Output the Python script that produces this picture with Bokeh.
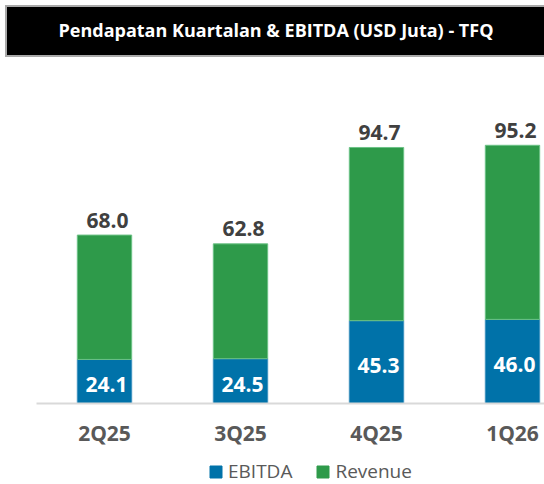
from bokeh.plotting import figure
from bokeh.models import ColumnDataSource, Range1d, FixedTicker, Legend, LegendItem, Div
from bokeh.layouts import column
from bokeh.core.properties import value
from bokeh.embed import file_html
from bokeh.resources import INLINE

# ---- data ----
categories = ["2Q25", "3Q25", "4Q25", "1Q26"]
ebitda = [24.1, 24.5, 45.3, 46.0]
revenue = [68.0, 62.8, 94.7, 95.2]
series_names = ["EBITDA", "Revenue"]
title_text = "Pendapatan Kuartalan & EBITDA (USD Juta) - TFQ"

BLUE = "#0072A9"
GREEN = "#2E9A4A"
FONT = "Open Sans"

xs = [i + 0.5 for i in range(len(categories))]
totals = [e + r for e, r in zip(ebitda, revenue)]
src = ColumnDataSource(dict(
    x=xs, cat=categories, ebitda=ebitda, revenue=revenue, total=totals,
    ebitda_mid=[e / 2 for e in ebitda],
    ebitda_lbl=[f"{e:.1f}" for e in ebitda],
    revenue_lbl=[f"{r:.1f}" for r in revenue],
))

p = figure(width=580, height=391, output_backend="svg", toolbar_location=None,
           x_range=Range1d(0, len(categories)), y_range=Range1d(0, 181),
           min_border_left=36, min_border_right=0, min_border_top=10, min_border_bottom=50)
p.outline_line_color = None
p.xgrid.visible = False
p.ygrid.visible = False
p.yaxis.visible = False
p.background_fill_color = "white"
p.border_fill_color = "white"

bw = 0.4
r_e = p.vbar(x="x", bottom=0, top="ebitda", width=bw, source=src,
             fill_color=BLUE, line_color="#3f93bf", line_width=1)
r_r = p.vbar(x="x", bottom="ebitda", top="total", width=bw, source=src,
             fill_color=GREEN, line_color="#6cc286", line_width=1)

p.text(x="x", y="ebitda_mid", text="ebitda_lbl", source=src,
       text_align="center", text_baseline="middle", x_offset=2, y_offset=3,
       text_color="white", text_font=value(FONT), text_font_style="bold",
       text_font_size="21px")
p.text(x="x", y="total", text="revenue_lbl", source=src,
       text_align="center", text_baseline="alphabetic", x_offset=3, y_offset=-15,
       text_color="#404040", text_font=value(FONT), text_font_style="bold",
       text_font_size="21px")

ax = p.xaxis[0]
ax.ticker = FixedTicker(ticks=xs)
ax.major_label_overrides = {x: c for x, c in zip(xs, categories)}
ax.major_tick_line_color = None
ax.minor_tick_line_color = None
ax.axis_line_color = "#d9d9d9"
ax.axis_line_width = 2
ax.major_label_standoff = 9
ax.major_label_text_font = FONT
ax.major_label_text_font_style = "bold"
ax.major_label_text_font_size = "21px"
ax.major_label_text_color = "#595959"

# ---- legend strip ----
pl = figure(width=580, height=40, output_backend="svg", toolbar_location=None,
            x_range=Range1d(0, 1), y_range=Range1d(0, 1),
            min_border_left=36, min_border_right=0, min_border_top=0, min_border_bottom=0)
pl.outline_line_color = None
pl.xgrid.visible = False
pl.ygrid.visible = False
pl.xaxis.visible = False
pl.yaxis.visible = False
# legend swatches only: their data lie outside the visible range
l_e = pl.vbar(x=[5], top=[5], width=0.1, fill_color=BLUE, line_color=BLUE)
l_r = pl.vbar(x=[5], top=[5], width=0.1, fill_color=GREEN, line_color=GREEN)
legend = Legend(items=[LegendItem(label=series_names[0], renderers=[l_e]),
                       LegendItem(label=series_names[1], renderers=[l_r])],
                location=(172, 9), orientation="horizontal",
                padding=0, margin=0, spacing=23, label_standoff=5,
                glyph_width=15, glyph_height=15,
                label_text_font=FONT, label_text_font_size="19px",
                label_text_color="#595959", border_line_color=None,
                background_fill_alpha=0)
pl.add_layout(legend, "center")

title_div = Div(
    text=("<div style=\"box-sizing:border-box;width:542px;height:52px;background:#000;"
          "border:2px solid #a9a9a9;color:#fff;font-family:'Open Sans';font-weight:700;"
          "font-size:18px;display:flex;align-items:center;justify-content:center;\">"
          + title_text.replace("&", "&amp;") + "</div>"),
    width=542, height=52)

layout = column(title_div, p, pl)
open("out.html", "w").write(file_html(layout, INLINE))
